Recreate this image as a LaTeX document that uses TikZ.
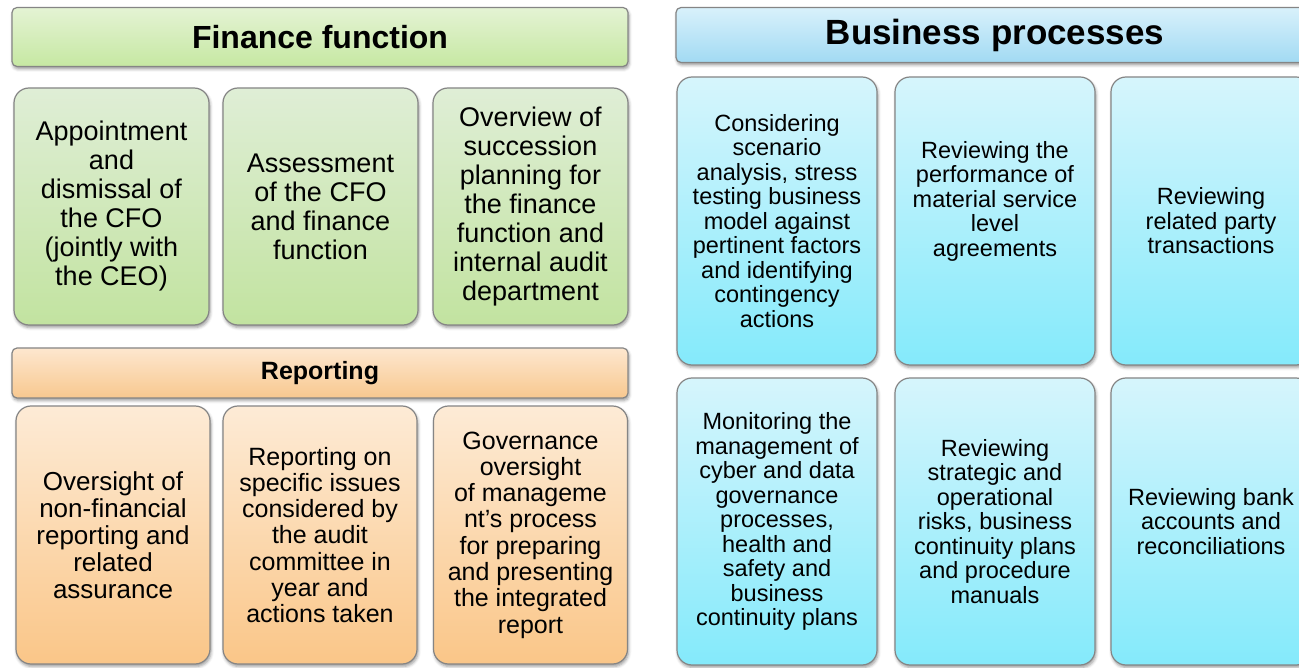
\documentclass[tikz,border=0pt]{standalone}
\usepackage{fontspec}
\setmainfont{Liberation Sans}
\usetikzlibrary{shadows.blur}
\definecolor{grhTop}{HTML}{E4F3D4}
\definecolor{grhBot}{HTML}{C6E8A2}
\definecolor{grbTop}{HTML}{DFEED6}
\definecolor{grbBot}{HTML}{C2E3A0}
\definecolor{orhTop}{HTML}{FDE7CF}
\definecolor{orhBot}{HTML}{F8C88F}
\definecolor{orbTop}{HTML}{FDEBD6}
\definecolor{orbBot}{HTML}{FAC688}
\definecolor{blhTop}{HTML}{D9F1FB}
\definecolor{blhBot}{HTML}{A2DAF3}
\definecolor{blbTop}{HTML}{D6F5FC}
\definecolor{blbBot}{HTML}{84EAFB}
\definecolor{edge}{HTML}{858585}
\tikzset{
  base/.style={draw=edge, line width=1.2pt, align=center, inner sep=0pt,
    blur shadow={shadow xshift=1pt, shadow yshift=-2.5pt, shadow blur radius=3pt, shadow opacity=40}},
  hdr/.style={base, rounded corners=5pt, font=\bfseries},
  cell/.style={base, rounded corners=15pt},
  greenhdr/.style={hdr, top color=grhTop, bottom color=grhBot},
  greencell/.style={cell, top color=grbTop, bottom color=grbBot, minimum width=195pt, minimum height=237pt, font=\fontsize{27}{29}\selectfont},
  orangehdr/.style={hdr, top color=orhTop, bottom color=orhBot},
  orangecell/.style={cell, top color=orbTop, bottom color=orbBot, minimum width=194pt, minimum height=258pt, font=\fontsize{25}{26.3}\selectfont},
  bluehdr/.style={hdr, top color=blhTop, bottom color=blhBot},
  bluecell/.style={cell, top color=blbTop, bottom color=blbBot, minimum width=200pt, minimum height=288pt, font=\fontsize{23.5}{24.5}\selectfont},
  plaintext/.style={align=center, inner sep=0pt, font=\fontsize{23.5}{24.5}\selectfont}
}
\begin{document}
\begin{tikzpicture}[x=1pt, y=-1pt]
\useasboundingbox (0,0) rectangle (1299,668);
% Finance function
\node[greenhdr, minimum width=616pt, minimum height=59pt, font=\fontsize{32}{36}\selectfont\bfseries] (ffh) at (320,37) {Finance function};
\node[greencell] (ff1) at (111.5,206.5) {Appointment\\and\\dismissal of\\the CFO\\(jointly with\\the CEO)};
\node[greencell] (ff2) at (320.5,206.5) {Assessment\\of the CFO\\and finance\\function};
\node[greencell] (ff3) at (530.5,206.5) {Overview of\\succession\\planning for\\the finance\\function and\\internal audit\\department};
% Reporting
\node[orangehdr, minimum width=616pt, minimum height=50pt, font=\fontsize{25}{28}\selectfont\bfseries] (rph) at (320,373) {Reporting};
\node[orangecell, font=\fontsize{26}{27}\selectfont] (rp1) at (113,535) {Oversight of\\non-financial\\reporting and\\related\\assurance};
\node[orangecell] (rp2) at (320,535) {Reporting on\\specific issues\\considered by\\the audit\\committee in\\year and\\actions taken};
\node[orangecell] (rp3) at (530.5,535) {Governance\\oversight\\of manageme\\nt’s process\\for preparing\\and presenting\\the integrated\\report};
% Business processes
\node[bluehdr, minimum width=638pt, minimum height=55pt, font=\fontsize{35}{38}\selectfont\bfseries] (bph) at (995,35) {Business processes};
\node[bluecell] (bp1) at (777,221) {Considering\\scenario\\analysis, stress\\testing business\\model against\\pertinent factors\\and identifying\\contingency\\actions};
\node[bluecell] (bp2) at (995,221) {};
\node[plaintext] (bp2t) at ([yshift=20pt]bp2.center) {Reviewing the\\performance of\\material service\\level\\agreements};
\node[bluecell] (bp3) at (1211,221) {Reviewing\\related party\\transactions};
\node[bluecell, minimum height=287pt] (bp4) at (777,521.5) {Monitoring the\\management of\\cyber and data\\governance\\processes,\\health and\\safety and\\business\\continuity plans};
\node[bluecell, minimum height=287pt] (bp5) at (995,521.5) {Reviewing\\strategic and\\operational\\risks, business\\continuity plans\\and procedure\\manuals};
\node[bluecell, minimum height=287pt] (bp6) at (1211,521.5) {Reviewing bank\\accounts and\\reconciliations};
\end{tikzpicture}
\end{document}
